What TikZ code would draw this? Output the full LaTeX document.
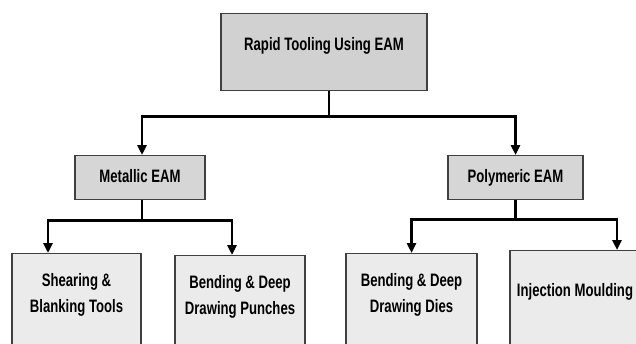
\documentclass[tikz,border=0pt]{standalone}
\usepackage{fontspec}
\newfontfamily\boxfont{Liberation Sans}[FakeStretch=0.73]
\usetikzlibrary{arrows.meta}

\tikzset{
    box/.style={draw=black!75, line width=1.3pt, anchor=north, align=center,
        font=\boxfont\bfseries\fontsize{18}{26}\selectfont, inner xsep=0pt},
    rootbox/.style={box, fill=black!18, text height=13pt, inner ysep=24pt, text depth=16pt},
    midbox/.style={box, fill=black!16, text height=14pt, inner ysep=13pt, text depth=4pt},
    leafbox/.style={box, fill=black!8, inner ysep=20pt, text depth=90pt},
    link/.style={line width=2.6pt, -{Triangle[length=10pt,width=9pt]}}
}

\begin{document}
\begin{tikzpicture}[x=1pt, y=-1pt]
    \useasboundingbox (0,0) rectangle (636,343);
    \clip (0,0) rectangle (636,343);

    % Draw the top box
    \node[rootbox, minimum width=206pt] (root) at (324,13) {Rapid Tooling Using EAM};

    % Draw the two middle boxes
    \node[midbox, minimum width=130pt] (metal) at (140,155) {Metallic EAM};
    \node[midbox, minimum width=135pt] (poly) at (515.5,155) {Polymeric EAM};

    % Draw the four bottom boxes (they run off the bottom edge)
    \node[leafbox, minimum width=129pt] (shear) at (76.5,253) {Shearing \&\\Blanking Tools};
    \node[leafbox, minimum width=130pt] (punch) at (240,255) {Bending \& Deep\\Drawing Punches};
    \node[leafbox, minimum width=131pt] (dies) at (411.5,253) {Bending \& Deep\\Drawing Dies};
    \node[leafbox, minimum width=130pt, inner ysep=33pt] (mould) at (575,250) {Injection Moulding};

    % Draw the arrows from the top box
    \draw[link] ([xshift=5pt]root.south) -- ++(0,25) -| ([xshift=2pt]metal.north);
    \draw[link] ([xshift=5pt]root.south) -- ++(0,25) -| (poly.north);

    % Draw the arrows from Metallic EAM
    \draw[link] ([xshift=2pt]metal.south) -- ++(0,20) -| ([xshift=-28.5pt]shear.north);
    \draw[link] ([xshift=2pt]metal.south) -- ++(0,20) -| ([xshift=-8pt]punch.north);

    % Draw the arrows from Polymeric EAM
    \draw[link] (poly.south) -- ++(0,19) -| (dies.north);
    \draw[link] (poly.south) -- ++(0,19) -| ([xshift=42pt]mould.north);
\end{tikzpicture}
\end{document}
